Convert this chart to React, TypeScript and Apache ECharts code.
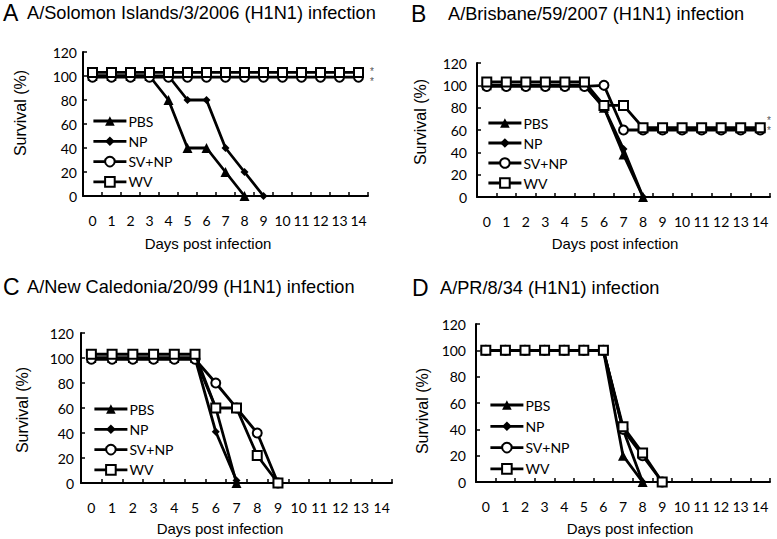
import React, { useEffect, useRef } from "react";
import * as echarts from "echarts";

const days = ["0","1","2","3","4","5","6","7","8","9","10","11","12","13","14"];
const seriesNames = ["PBS", "NP", "SV+NP", "WV"];

// Panel A: A/Solomon Islands/3/2006
const aPBS = [100, 100, 100, 100, 80, 40, 40, 20, 0];
const aNP = [100, 100, 100, 100, 100, 80, 80, 40, 20, 0];
const aSVNP = [99, 99, 99, 99, 99, 99, 99, 99, 99, 99, 99, 99, 99, 99, 99];
const aWV = [103, 103, 103, 103, 103, 103, 103, 103, 103, 103, 103, 103, 103, 103, 103];

// Panel B: A/Brisbane/59/2007
const bPBS = [100, 100, 100, 100, 100, 100, 80, 38, 0];
const bNP = [100, 100, 100, 100, 100, 100, 80, 43, 0];
const bSVNP = [99, 99, 99, 99, 99, 99, 100, 60, 60, 60, 60, 60, 60, 60, 60];
const bWV = [103, 103, 103, 103, 103, 103, 82, 82, 62, 62, 62, 62, 62, 62, 62];

// Panel C: A/New Caledonia/20/99
const cPBS = [100, 100, 100, 100, 100, 100, 60, 0];
const cNP = [100, 100, 100, 100, 100, 100, 41, 2];
const cSVNP = [99, 99, 99, 99, 99, 99, 80, 60, 40, 0];
const cWV = [103, 103, 103, 103, 103, 103, 60, 60, 22, 0];

// Panel D: A/PR/8/34
const dPBS = [100, 100, 100, 100, 100, 100, 100, 20, 0];
const dNP = [100, 100, 100, 100, 100, 100, 100, 40, 0];
const dSVNP = [100, 100, 100, 100, 100, 100, 100, 40, 20, 0];
const dWV = [100, 100, 100, 100, 100, 100, 100, 42, 22, 0];

const panelTitles = [
  { letter: "A", text: "A/Solomon Islands/3/2006 (H1N1) infection" },
  { letter: "B", text: "A/Brisbane/59/2007 (H1N1) infection" },
  { letter: "C", text: "A/New Caledonia/20/99 (H1N1) infection" },
  { letter: "D", text: "A/PR/8/34 (H1N1) infection" },
];
const xAxisTitle = "Days post infection";
const yAxisTitle = "Survival (%)";
const sigMark = "*";

const panelData = [
  [aPBS, aNP, aSVNP, aWV],
  [bPBS, bNP, bSVNP, bWV],
  [cPBS, cNP, cSVNP, cWV],
  [dPBS, dNP, dSVNP, dWV],
];

const TICK_FONT = "Lato";
const TITLE_FONT = "Liberation Sans";

export default function App() {
  const ref = useRef<HTMLDivElement>(null);

  useEffect(() => {
    document.body.style.margin = "0";
    const chart = echarts.init(ref.current!, null, { renderer: "svg" });

    const grids = [
      { left: 83, top: 52, width: 285, height: 144 },
      { left: 477, top: 63, width: 293, height: 134 },
      { left: 81, top: 333, width: 311, height: 150 },
      { left: 476, top: 324, width: 294, height: 158 },
    ];
    const yLabelMargin = [6, 10, 7, 10];
    const legendPos = [
      { left: 92, top: 114, gap: 6.3 },
      { left: 487, top: 116, gap: 6.0 },
      { left: 93, top: 402, gap: 6.3 },
      { left: 489, top: 398, gap: 7.3 },
    ];

    const styles = [
      { symbol: "triangle", size: 10, fill: "#000", bw: 0 },
      { symbol: "diamond", size: 8, fill: "#000", bw: 0 },
      { symbol: "circle", size: 9, fill: "#fff", bw: 2 },
      { symbol: "rect", size: 9, fill: "#fff", bw: 2 },
    ];

    const series: any[] = [];
    panelData.forEach((group, gi) => {
      group.forEach((data, si) => {
        const st = styles[si];
        series.push({
          type: "line",
          name: seriesNames[si],
          data,
          xAxisIndex: gi,
          yAxisIndex: gi,
          symbol: st.symbol,
          symbolSize: st.size,
          showSymbol: true,
          showAllSymbol: true,
          lineStyle: { color: "#000", width: 2.8 },
          itemStyle: { color: st.fill, borderColor: "#000", borderWidth: st.bw },
          z: 2 + si,
        });
      });
    });

    const graphic: any[] = [];
    const letterPos = [
      { lx: 3, tx: 27, y: 13 },
      { lx: 411, tx: 448, y: 14 },
      { lx: 3, tx: 27, y: 287 },
      { lx: 412, tx: 440, y: 288 },
    ];
    panelTitles.forEach((t, i) => {
      const p = letterPos[i];
      graphic.push({
        type: "text",
        x: p.lx,
        y: p.y,
        style: { text: t.letter, fontSize: 23, fontFamily: TITLE_FONT, fill: "#000", align: "left", verticalAlign: "middle" },
      });
      graphic.push({
        type: "text",
        x: p.tx,
        y: p.y,
        style: { text: t.text, fontSize: 18.2, fontFamily: TITLE_FONT, fill: "#000", align: "left", verticalAlign: "middle" },
      });
    });
    const xNamePos = [
      { x: 208, y: 243 },
      { x: 615, y: 243 },
      { x: 220, y: 528 },
      { x: 630, y: 528 },
    ];
    const yNamePos = [
      { x: 20, y: 113 },
      { x: 420, y: 122 },
      { x: 22, y: 410 },
      { x: 422, y: 411 },
    ];
    for (let i = 0; i < 4; i++) {
      graphic.push({
        type: "text",
        x: xNamePos[i].x,
        y: xNamePos[i].y,
        style: { text: xAxisTitle, fontSize: 15, fontFamily: TITLE_FONT, fill: "#000", align: "center", verticalAlign: "middle" },
      });
      graphic.push({
        type: "text",
        x: yNamePos[i].x,
        y: yNamePos[i].y,
        rotation: Math.PI / 2,
        style: { text: yAxisTitle, fontSize: 16, fontFamily: TITLE_FONT, fill: "#000", align: "center", verticalAlign: "middle" },
      });
    }
    const stars = [
      { x: 372, y: 71 },
      { x: 372, y: 81 },
      { x: 769, y: 120 },
      { x: 769, y: 130 },
    ];
    stars.forEach((s) => {
      graphic.push({
        type: "text",
        x: s.x,
        y: s.y,
        style: { text: sigMark, fontSize: 10, lineHeight: 10, fontFamily: TITLE_FONT, fill: "#555", align: "center", verticalAlign: "middle" },
      });
    });

    chart.setOption({
      animation: false,
      backgroundColor: "#fff",
      grid: grids.map((g) => ({ ...g, containLabel: false })),
      xAxis: grids.map((_, i) => ({
        type: "category",
        gridIndex: i,
        data: days,
        boundaryGap: true,
        axisLine: { show: true, lineStyle: { color: "#000", width: 2 } },
        axisTick: { show: true, inside: true, length: 4, alignWithLabel: false, lineStyle: { color: "#000", width: 1.5 } },
        axisLabel: { color: "#000", fontSize: 14, fontFamily: TICK_FONT, margin: 17, interval: 0 },
        splitLine: { show: false },
      })),
      yAxis: grids.map((_, i) => ({
        type: "value",
        gridIndex: i,
        min: 0,
        max: 120,
        interval: 20,
        axisLine: { show: true, lineStyle: { color: "#000", width: 2 } },
        axisTick: { show: true, inside: true, length: 4, lineStyle: { color: "#000", width: 1.5 } },
        axisLabel: { color: "#000", fontSize: 14, fontFamily: TICK_FONT, margin: yLabelMargin[i] },
        splitLine: { show: false },
      })),
      legend: legendPos.map((p) => ({
        orient: "vertical",
        left: p.left,
        top: p.top,
        padding: 0,
        itemGap: p.gap,
        itemWidth: 33,
        itemHeight: 12,
        selectedMode: false,
        data: seriesNames,
        lineStyle: { width: 2.8 },
        textStyle: { color: "#000", fontSize: 14, fontFamily: TICK_FONT, padding: [0, 0, 0, -3] },
      })),
      series,
      graphic,
    });

    return () => chart.dispose();
  }, []);

  return <div ref={ref} style={{ width: 777, height: 539 }} />;
}
